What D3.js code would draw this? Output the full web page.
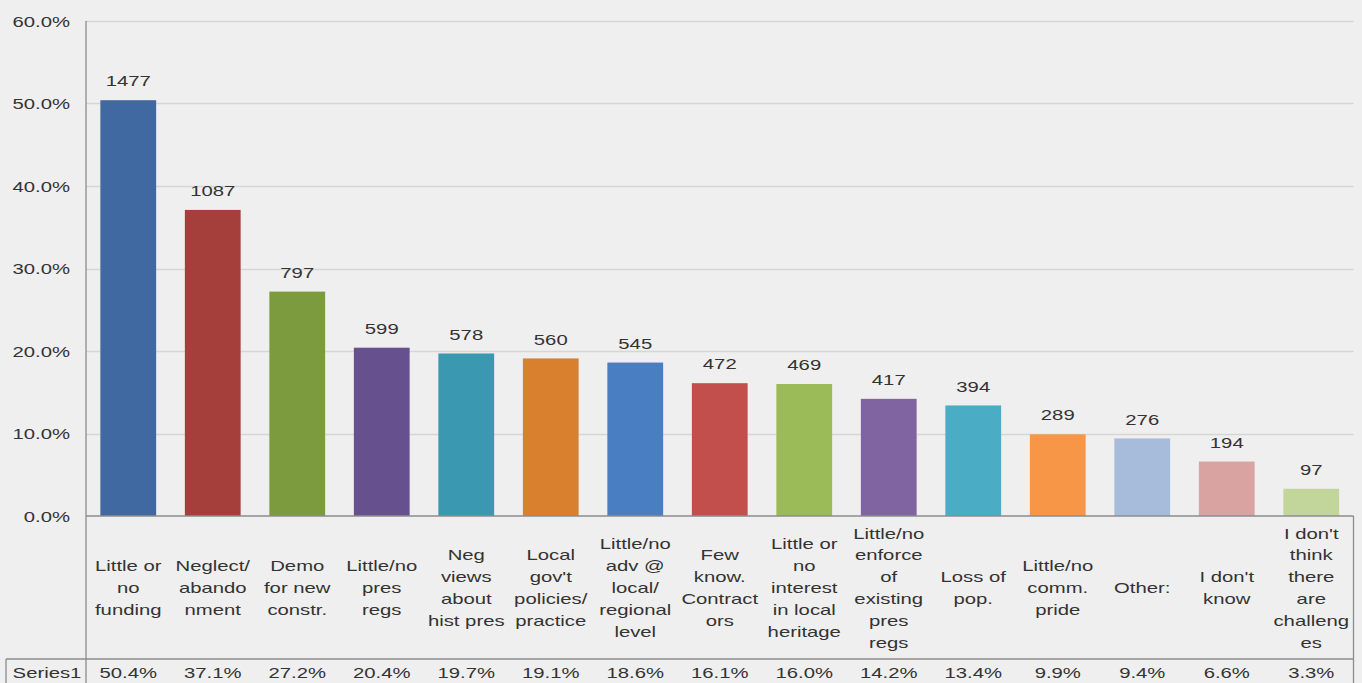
<!DOCTYPE html>
<html>
<head>
<meta charset="utf-8">
<script src="https://cdn.jsdelivr.net/npm/d3@7"></script>
<style>
  html, body { margin: 0; padding: 0; background: #efefef; }
  svg { display: block; }
  text { font-family: "Liberation Sans", Arial, sans-serif; fill: #333; }
</style>
</head>
<body>
<svg id="chart" width="1362" height="683"></svg>
<script>
const categories = [
  "Little or\nno\nfunding",
  "Neglect/\nabando\nnment",
  "Demo\nfor new\nconstr.",
  "Little/no\npres\nregs",
  "Neg\nviews\nabout\nhist pres",
  "Local\ngov't\npolicies/\npractice",
  "Little/no\nadv @\nlocal/\nregional\nlevel",
  "Few\nknow.\nContract\nors",
  "Little or\nno\ninterest\nin local\nheritage",
  "Little/no\nenforce\nof\nexisting\npres\nregs",
  "Loss of\npop.",
  "Little/no\ncomm.\npride",
  "Other:",
  "I don't\nknow",
  "I don't\nthink\nthere\nare\nchalleng\nes"
];
const counts = [1477, 1087, 797, 599, 578, 560, 545, 472, 469, 417, 394, 289, 276, 194, 97];
const percents = [50.4, 37.1, 27.2, 20.4, 19.7, 19.1, 18.6, 16.1, 16.0, 14.2, 13.4, 9.9, 9.4, 6.6, 3.3];
const barColors = ["#4169a1", "#a53f3c", "#7b9b3e", "#67508e", "#3a98b0", "#d9802f",
                   "#4a7ec2", "#c24f4b", "#9bbb59", "#8064a2", "#4bacc6", "#f79646",
                   "#a7bbdb", "#d9a3a2", "#c2d69b"];
const yTicks = [0, 10, 20, 30, 40, 50, 60];
const seriesName = "Series1";

(function () {
const svg = d3.select("#chart");
const mLeft = 86, mRight = 1353.5, mTop = 21, mBottom = 516;
const tableLine = 659, tableLeft = 6, H = 683;
const SX = 1.4, FS = 14.5;

const x = d3.scaleBand().domain(d3.range(categories.length)).range([mLeft, mRight]).paddingInner(0.34).paddingOuter(0.17);
const y = d3.scaleLinear().domain([0, 60]).range([mBottom, mTop]);

function stretchedText(g, tx, ty, str, anchor) {
  const gg = g.append("g").attr("transform", `translate(${tx},${ty})`);
  gg.append("text").attr("transform", `scale(${SX},1)`)
    .attr("text-anchor", anchor || "middle")
    .attr("dy", "0.35em")
    .style("font-size", FS + "px")
    .text(str);
  return gg;
}

// gridlines
svg.append("g").selectAll("line").data(yTicks.filter(d => d > 0)).join("line")
  .attr("x1", mLeft).attr("x2", mRight)
  .attr("y1", d => Math.round(y(d)) + 0.5).attr("y2", d => Math.round(y(d)) + 0.5)
  .attr("stroke", "#d6d6d6").attr("stroke-width", 1.5);

// y axis via d3
const yAxis = d3.axisLeft(y).tickValues(yTicks).tickSize(0).tickFormat(d => d.toFixed(1) + "%");
const yg = svg.append("g").attr("transform", `translate(${mLeft},0)`).call(yAxis);
yg.select(".domain").remove();
yg.selectAll(".tick text").remove();
yg.selectAll(".tick").each(function(d) {
  stretchedText(d3.select(this), -16, 0, d.toFixed(1) + "%", "end");
});

// bars
svg.append("g").selectAll("rect").data(percents).join("rect")
  .attr("x", (d, i) => x(i)).attr("width", x.bandwidth())
  .attr("y", d => y(d)).attr("height", d => y(0) - y(d))
  .attr("fill", (d, i) => barColors[i]);

// value labels
const vl = svg.append("g");
counts.forEach((c, i) => {
  stretchedText(vl, x(i) + x.bandwidth() / 2, y(percents[i]) - 19, String(c));
});

// axis / table lines
const lines = svg.append("g").attr("stroke", "#8c8c8c").attr("stroke-width", 1.3).attr("fill", "none");
lines.append("line").attr("x1", mLeft).attr("x2", mLeft).attr("y1", mTop).attr("y2", H);
lines.append("line").attr("x1", mLeft).attr("x2", mRight).attr("y1", mBottom).attr("y2", mBottom);
lines.append("line").attr("x1", mRight).attr("x2", mRight).attr("y1", mBottom).attr("y2", H);
lines.append("line").attr("x1", tableLeft).attr("x2", mRight).attr("y1", tableLine).attr("y2", tableLine);
lines.append("line").attr("x1", tableLeft).attr("x2", tableLeft).attr("y1", tableLine).attr("y2", H);

// category labels
const cl = svg.append("g");
const lh = 21.8, cy = 588;
categories.forEach((c, i) => {
  const parts = c.split("\n");
  const cx = x(i) + x.bandwidth() / 2;
  parts.forEach((p, j) => {
    stretchedText(cl, cx, cy + (j - (parts.length - 1) / 2) * lh, p);
  });
});

// data table row
const tr = svg.append("g");
stretchedText(tr, (tableLeft + mLeft) / 2 + 1, 673, seriesName);
percents.forEach((p, i) => {
  stretchedText(tr, x(i) + x.bandwidth() / 2, 673, p.toFixed(1) + "%");
});
})();
</script>
</body>
</html>
